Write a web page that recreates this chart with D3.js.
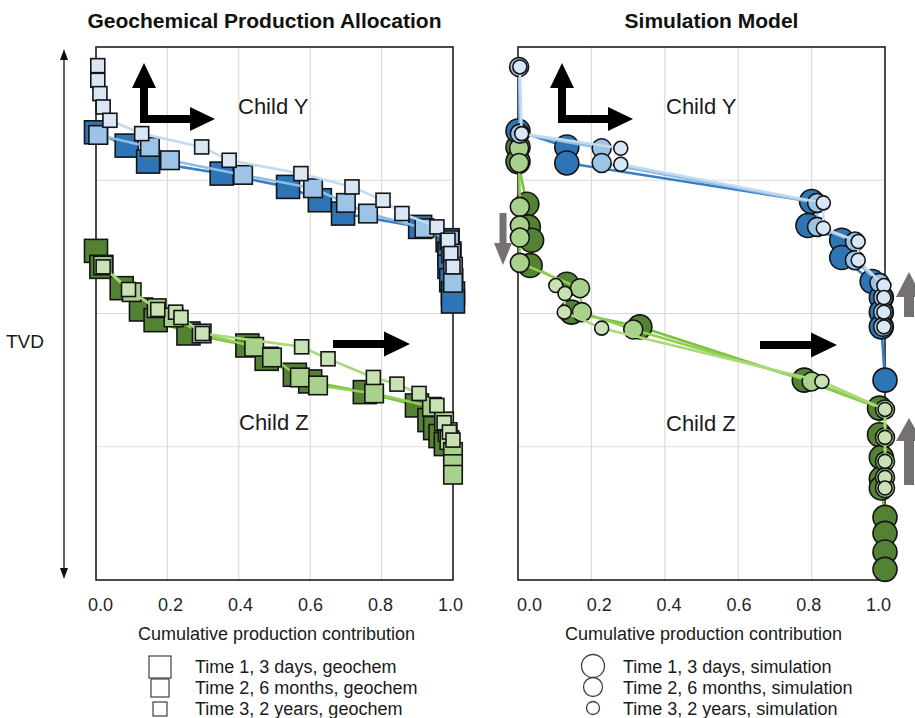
<!DOCTYPE html>
<html>
<head>
<meta charset="utf-8">
<script src="https://cdn.jsdelivr.net/npm/d3@7"></script>
<style>
  body { margin: 0; background: #fff; }
  svg { display: block; font-family: "Liberation Sans", Arial, sans-serif; }
</style>
</head>
<body>
<svg id="chart" width="915" height="718"></svg>
<script>
// ---- axis values ----
const xTicks = [0, 0.2, 0.4, 0.6, 0.8, 1.0];
const depthGrid = [100, 200, 300];          // relative TVD units, 0 (top) .. 400 (bottom)
const timeLabels = ["Time 1, 3 days", "Time 2, 6 months", "Time 3, 2 years"];

// ---- Geochemical production allocation: Child Y ----
const geoY1x = [0.00, 0.086, 0.146, 0.352, 0.538, 0.627, 0.692, 0.908, 0.985, 0.99, 0.99, 0.995, 1.0, 1.0];
const geoY1d = [64, 74, 86, 95, 105, 115, 125, 135, 145, 155, 165, 175, 185, 191];
const geoY2x = [0.006, 0.151, 0.207, 0.412, 0.608, 0.70, 0.762, 0.92, 0.99, 0.995, 1.0, 1.0];
const geoY2d = [66, 75, 85, 96, 106, 117, 125, 136, 145, 155, 165, 177];
const geoY3x = [0.005, 0.005, 0.011, 0.02, 0.039, 0.128, 0.296, 0.373, 0.574, 0.717, 0.804, 0.857, 0.955, 0.986, 0.994, 1.0];
const geoY3d = [14, 25, 35, 45, 55, 65, 75, 85, 95, 105, 115, 125, 135, 145, 155, 165];

// ---- Geochemical production allocation: Child Z ----
const geoZ1x = [0.0, 0.015, 0.072, 0.126, 0.167, 0.259, 0.424, 0.478, 0.557, 0.60, 0.753, 0.899, 0.934, 0.95, 0.965, 0.98];
const geoZ1d = [153, 165, 181, 197, 205, 215, 224, 234, 246, 251, 259, 269, 280, 286, 292, 298];
const geoZ2x = [0.02, 0.10, 0.17, 0.217, 0.296, 0.443, 0.493, 0.571, 0.622, 0.779, 0.941, 0.975, 0.985, 0.99, 1.0, 1.0, 1.0];
const geoZ2d = [164, 184, 196, 203, 215, 225, 233, 248, 254, 260, 270, 281, 289, 295, 304, 313, 321];
const geoZ3x = [0.02, 0.091, 0.173, 0.223, 0.238, 0.298, 0.576, 0.65, 0.777, 0.843, 0.905, 0.955, 0.975, 0.99, 1.0];
const geoZ3d = [165, 182, 197, 199, 203, 215, 225, 234, 248, 253, 260, 269, 282, 289, 295];

// ---- Simulation model: Child Y ----
const simY1x = [0.0, 0.133, 0.133, 0.80, 0.79, 0.882, 0.882, 0.965, 0.99, 0.99, 0.99, 1.0];
const simY1d = [63, 75, 87, 116, 134, 145, 158, 176, 188, 199, 210, 250];
const simY2x = [0.003, 0.005, 0.228, 0.228, 0.815, 0.815, 0.918, 0.918, 0.985, 0.995, 0.995, 0.995];
const simY2d = [15, 65, 76, 87, 117, 135, 146, 160, 177, 188, 199, 210];
const simY3x = [0.005, 0.01, 0.28, 0.28, 0.832, 0.832, 0.927, 0.927, 0.997, 0.997, 0.997, 0.997];
const simY3d = [15, 65, 76, 88, 117, 136, 146, 160, 179, 188, 199, 210];

// ---- Simulation model: Child Z ----
const simZ1x = [0.0, 0.0, 0.024, 0.028, 0.037, 0.033, 0.133, 0.146, 0.332, 0.78, 0.985, 0.985, 0.99, 0.99, 0.99, 1.0, 1.0, 1.0, 1.0];
const simZ1d = [75, 86, 118, 135, 145, 164, 178, 199, 210, 250, 271, 291, 308, 324, 331, 353, 365, 379, 392];
const simZ2x = [0.003, 0.003, 0.005, 0.005, 0.005, 0.005, 0.169, 0.174, 0.314, 0.80, 1.0, 1.0, 1.0, 1.0, 1.0];
const simZ2d = [76, 87, 120, 134, 143, 162, 181, 199, 212, 251, 272, 293, 311, 323, 331];
const simZ3x = [0.103, 0.128, 0.126, 0.228, 0.828, 1.0, 1.0, 1.0, 1.0, 1.0];
const simZ3d = [179, 185, 199, 211, 251, 272, 293, 311, 323, 331];

// ---- colours per time step ----
const blueFill  = ["#2e75b6", "#9dc3e6", "#d9e7f5"];
const blueLine  = ["#3a7fc5", "#8fbce6", "#c4daf0"];
const greenFill = ["#548235", "#a9d18e", "#c8e2b6"];
const greenLine = ["#7dbf45", "#92d050", "#a8da7c"];
const squareSize = [23, 18.5, 14];
const circleR = [12, 9.5, 7];

const zip = (xs, ds) => xs.map((v, i) => ({ x: v, d: ds[i] }));

const svg = d3.select("#chart");
const plotTop = 47, plotBottom = 580;

const panels = [
  {
    title: "Geochemical Production Allocation", titleX: 264.5,
    x0: 96, x1: 453, labelRange: [100, 450], marker: "square", legendSuffix: ", geochem",
    series: [
      { child: "Z", t: 0, pts: zip(geoZ1x, geoZ1d) }, { child: "Y", t: 0, pts: zip(geoY1x, geoY1d) },
      { child: "Z", t: 1, pts: zip(geoZ2x, geoZ2d) }, { child: "Y", t: 1, pts: zip(geoY2x, geoY2d) },
      { child: "Z", t: 2, pts: zip(geoZ3x, geoZ3d) }, { child: "Y", t: 2, pts: zip(geoY3x, geoY3d) }
    ],
    childY: [238, 114], childZ: [239, 430],
    legendMarkX: 160, legendTextX: 195
  },
  {
    title: "Simulation Model", titleX: 711.5,
    x0: 518, x1: 885, labelRange: [529, 878], marker: "circle", legendSuffix: ", simulation",
    series: [
      { child: "Z", t: 0, pts: zip(simZ1x, simZ1d) }, { child: "Y", t: 0, pts: zip(simY1x, simY1d) },
      { child: "Z", t: 1, pts: zip(simZ2x, simZ2d) }, { child: "Y", t: 1, pts: zip(simY2x, simY2d) },
      { child: "Z", t: 2, pts: zip(simZ3x, simZ3d) }, { child: "Y", t: 2, pts: zip(simY3x, simY3d) }
    ],
    childY: [666, 114], childZ: [666, 431],
    legendMarkX: 593, legendTextX: 623
  }
];

panels.forEach(p => {
  const x = d3.scaleLinear().domain([0, 1]).range([p.x0, p.x1]);
  const xLabel = d3.scaleLinear().domain([0, 1]).range(p.labelRange);
  const y = d3.scaleLinear().domain([0, 400]).range([plotTop, plotBottom]);
  const g = svg.append("g");

  // grid
  g.selectAll(".vg").data(xTicks.slice(1, -1)).join("line")
    .attr("x1", d => x(d)).attr("x2", d => x(d)).attr("y1", plotTop).attr("y2", plotBottom)
    .attr("stroke", "#dcdcdc").attr("stroke-width", 1.2);
  g.selectAll(".hg").data(depthGrid).join("line")
    .attr("x1", p.x0).attr("x2", p.x1).attr("y1", d => y(d)).attr("y2", d => y(d))
    .attr("stroke", "#dcdcdc").attr("stroke-width", 1.2);

  // frame
  g.append("rect").attr("x", p.x0).attr("y", plotTop)
    .attr("width", p.x1 - p.x0).attr("height", plotBottom - plotTop)
    .attr("fill", "none").attr("stroke", "#1f1f1f").attr("stroke-width", 1.6);

  // series: line, then markers
  const line = d3.line().x(d => x(d.x)).y(d => y(d.d));
  p.series.forEach(s => {
    const fill = (s.child === "Y" ? blueFill : greenFill)[s.t];
    const lc = (s.child === "Y" ? blueLine : greenLine)[s.t];
    g.append("path").datum(s.pts).attr("d", line)
      .attr("fill", "none").attr("stroke", lc).attr("stroke-width", 2.6)
      .attr("stroke-linejoin", "round");
    if (p.marker === "square") {
      const sz = squareSize[s.t];
      g.selectAll(null).data(s.pts).join("rect")
        .attr("x", d => x(d.x) - sz / 2).attr("y", d => y(d.d) - sz / 2)
        .attr("width", sz).attr("height", sz)
        .attr("fill", fill).attr("stroke", "#141414").attr("stroke-width", 1.6);
    } else {
      g.selectAll(null).data(s.pts).join("circle")
        .attr("cx", d => x(d.x)).attr("cy", d => y(d.d)).attr("r", circleR[s.t])
        .attr("fill", fill).attr("stroke", "#141414").attr("stroke-width", 1.6);
    }
  });

  // x axis labels
  const ax = g.append("g").attr("transform", `translate(0,${plotBottom})`)
    .call(d3.axisBottom(xLabel).tickValues(xTicks).tickSize(0).tickPadding(18).tickFormat(d3.format(".1f")));
  ax.select(".domain").remove();
  ax.selectAll("text").attr("font-size", 18).attr("fill", "#262626")
    .attr("font-family", "Liberation Sans, Arial, sans-serif");

  g.append("text").attr("x", (p.x0 + p.x1) / 2 + 2).attr("y", 640)
    .attr("text-anchor", "middle").attr("font-size", 18).attr("fill", "#1a1a1a")
    .text("Cumulative production contribution");

  // title
  g.append("text").attr("x", p.titleX).attr("y", 28).attr("text-anchor", "middle")
    .attr("font-size", 21).attr("font-weight", "bold").attr("fill", "#111").text(p.title);

  // child labels
  g.append("text").attr("x", p.childY[0]).attr("y", p.childY[1])
    .attr("font-size", 22).attr("fill", "#1a1a1a").text("Child Y");
  g.append("text").attr("x", p.childZ[0]).attr("y", p.childZ[1])
    .attr("font-size", 22).attr("fill", "#1a1a1a").text("Child Z");

  // legend
  const rows = [667, 688, 709];
  timeLabels.forEach((lab, i) => {
    if (p.marker === "square") {
      const sz = [22, 18, 14][i];
      g.append("rect").attr("x", p.legendMarkX - sz / 2).attr("y", rows[i] - sz / 2)
        .attr("width", sz).attr("height", sz)
        .attr("fill", "#fff").attr("stroke", "#404040").attr("stroke-width", 1.2);
    } else {
      g.append("circle").attr("cx", p.legendMarkX).attr("cy", rows[i] - 1)
        .attr("r", [11.5, 9.5, 6.5][i])
        .attr("fill", "#fff").attr("stroke", "#404040").attr("stroke-width", 1.3);
    }
    g.append("text").attr("x", p.legendTextX).attr("y", rows[i] + 5.5)
      .attr("font-size", 18).attr("fill", "#1a1a1a").text(lab + p.legendSuffix);
  });
});

// ---- annotation arrows ----
function lArrow(ox, oy) {
  // ox, oy: outer corner of the L (bottom-left)
  const pts = [[0, 0], [0, -35], [-8, -35], [4, -60], [16, -35], [8, -35], [8, -8],
               [50, -8], [50, -16], [75, -4], [50, 8], [50, 0]];
  svg.append("polygon").attr("points", pts.map(q => [ox + q[0], oy + q[1]].join(",")).join(" "))
    .attr("fill", "#000");
}
function rightArrow(x0, yc, fill) {
  const pts = [[0, -4], [51, -4], [51, -12.5], [77, 0], [51, 12.5], [51, 4], [0, 4]];
  svg.append("polygon").attr("points", pts.map(q => [x0 + q[0], yc + q[1]].join(",")).join(" "))
    .attr("fill", fill);
}
function vArrow(xc, yTip, headLen, headW, shaftW, shaftEnd, fill) {
  const dir = shaftEnd > yTip ? 1 : -1;
  const base = yTip + dir * headLen;
  const pts = [[xc, yTip], [xc + headW / 2, base], [xc + shaftW / 2, base], [xc + shaftW / 2, shaftEnd],
               [xc - shaftW / 2, shaftEnd], [xc - shaftW / 2, base], [xc - headW / 2, base]];
  svg.append("polygon").attr("points", pts.map(q => q.join(",")).join(" ")).attr("fill", fill);
}
lArrow(140, 123);
lArrow(558, 123);
rightArrow(333, 344, "#000");
rightArrow(760, 345, "#000");
const grey = "#767171";
vArrow(503, 265, 22, 18, 7, 213, grey);
vArrow(909, 272, 25, 26, 10, 317, grey);
vArrow(909, 418, 23, 26, 10, 485, grey);

// ---- TVD axis ----
svg.append("line").attr("x1", 64).attr("x2", 64).attr("y1", 56).attr("y2", 572)
  .attr("stroke", "#111").attr("stroke-width", 1.3);
svg.append("polygon").attr("points", "64,49 60,60 68,60").attr("fill", "#111");
svg.append("polygon").attr("points", "64,579 60,568 68,568").attr("fill", "#111");
svg.append("text").attr("x", 25).attr("y", 348).attr("text-anchor", "middle")
  .attr("font-size", 19).attr("fill", "#1a1a1a").text("TVD");
</script>
</body>
</html>
